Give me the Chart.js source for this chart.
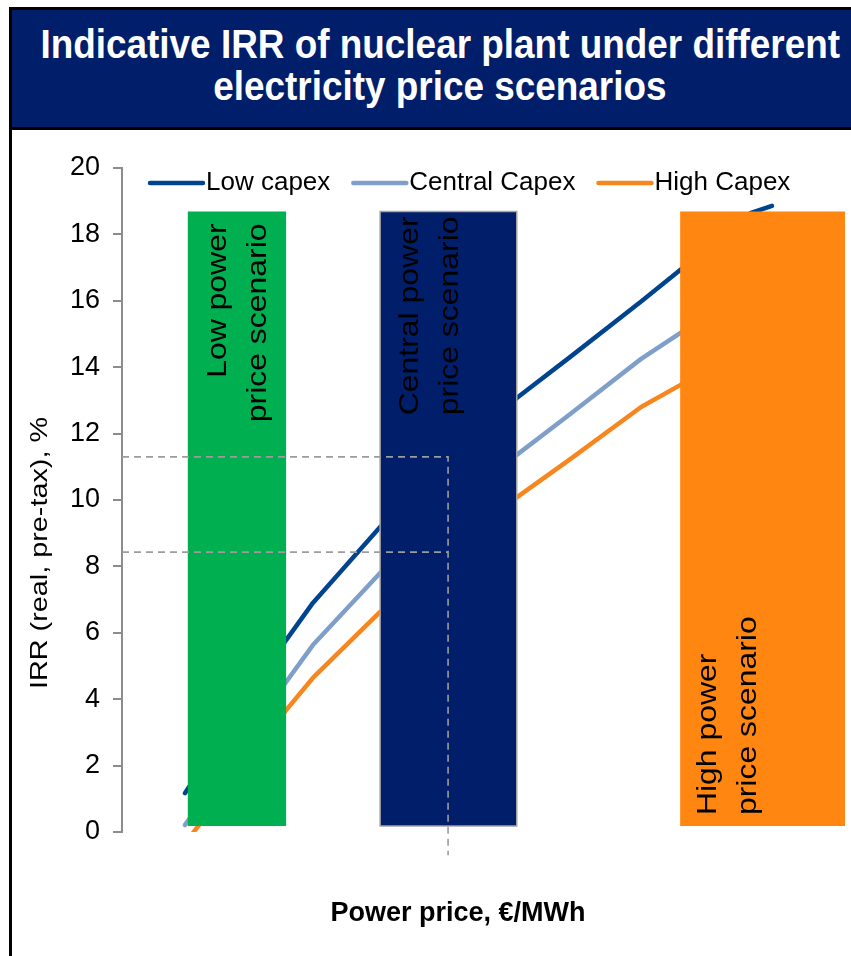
<!DOCTYPE html>
<html>
<head>
<meta charset="utf-8">
<script src="https://cdn.jsdelivr.net/npm/chart.js@4.4.1/dist/chart.umd.min.js"></script>
<style>
  html, body { margin: 0; padding: 0; background: #fff; width: 851px; height: 956px; overflow: hidden; }
  #frame {
    position: absolute; left: 9px; top: 7px; width: 862px; height: 1000px;
    border: 3px solid #000; box-sizing: border-box; z-index: 1;
  }
  #banner {
    height: 120px; background: #011e6a; border-bottom: 3px solid #000;
    color: #fff; box-sizing: border-box; padding-top: 13px;
    font: bold 41px "Liberation Sans", Arial, sans-serif; line-height: 42px;
    display: flex; flex-direction: column; align-items: center; overflow: hidden;
  }
  #banner div { transform: scaleX(0.9); white-space: nowrap; flex: none; }
  #chart { position: absolute; left: 0; top: 0; z-index: 2; }
</style>
</head>
<body>
<div id="frame">
  <div id="banner">
    <div>Indicative IRR of nuclear plant under different</div>
    <div>electricity price scenarios</div>
  </div>
</div>
<canvas id="chart" width="851" height="956"></canvas>

<script>
/* ── Datos ── */
var FONT = '"Liberation Sans", Arial, sans-serif';

var seriesNames  = ['Low capex', 'Central Capex', 'High Capex'];
var seriesColors = ['#00448f', '#7f9fc9', '#f7861e'];

// power price (hidden axis, relative units)
var prices          = [8.7, 22.7, 26.4, 35.7, 54.6, 62.0, 71.8, 77.2, 86.9, 89.9];
var irrLowCapex     = [1.17, 5.78, 6.90, 9.19, 13.07, 14.31, 15.98, 16.93, 18.64, 18.86];
var irrCentralCapex = [0.21, 4.52, 5.63, 7.80, 11.36, 12.59, 14.25, 15.03, 16.50, 16.70];
var irrHighCapex    = [-0.35, 3.67, 4.64, 6.63, 10.08, 11.23, 12.80, 13.46, 14.70, 14.90];

var yTicks = [0, 2, 4, 6, 8, 10, 12, 14, 16, 18, 20];

// scenario bands
var scenarioLines  = [['Low power', 'price scenario'], ['Central power', 'price scenario'], ['High power', 'price scenario']];
var scenarioFrom   = [9.1, 35.7, 77.2];
var scenarioTo     = [22.7, 54.6, 100];
var scenarioColors = ['#00b050', '#011e6a', '#fe8611'];
var scenarioTop    = 18.69;
var scenarioBottom = 0.18;

// dashed guides
var guideIrr    = [11.3, 8.43];
var guidePrice  = 45.1;
var guideBottom = -0.7;

function toPoints(xs, ys) {
  return xs.map(function(x, i) { return { x: x, y: ys[i] }; });
}

/* ── Plugin: bandas, textos y leyenda ── */
function vText(ctx, lines, cx, y, align, size, stretch, gap, weight) {
  ctx.save();
  ctx.translate(cx, y);
  ctx.rotate(-Math.PI / 2);
  ctx.scale(stretch, 1);
  ctx.font = (weight || '') + ' ' + size + 'px ' + FONT;
  ctx.fillStyle = '#000';
  ctx.textAlign = align;
  ctx.textBaseline = 'middle';
  lines.forEach(function(t, i) {
    ctx.fillText(t, 0, (i - (lines.length - 1) / 2) * gap);
  });
  ctx.restore();
}

var bandsPlugin = {
  id: 'bands',
  beforeDatasetDraw: function(chart, args) {
    if (args.index !== 3) return;
    var ctx = chart.ctx, x = chart.scales.x, y = chart.scales.y;
    var top = y.getPixelForValue(scenarioTop), bot = y.getPixelForValue(scenarioBottom);
    for (var i = 0; i < scenarioFrom.length; i++) {
      var l = x.getPixelForValue(scenarioFrom[i]), r = x.getPixelForValue(scenarioTo[i]);
      ctx.save();
      ctx.fillStyle = scenarioColors[i];
      ctx.fillRect(l, top, r - l, bot - top);
      if (i === 1) {
        ctx.strokeStyle = '#a6a6a6';
        ctx.lineWidth = 1.5;
        ctx.strokeRect(l, top, r - l, bot - top);
      }
      ctx.restore();
      if (i === 2) vText(ctx, scenarioLines[i], l + 48, bot - 11, 'left', 28, 1.14, 40);
      else vText(ctx, scenarioLines[i], l + 50, top + (i === 0 ? 12 : 5), 'right', 28, 1.14, 40);
    }
  },
  afterDraw: function(chart) {
    var ctx = chart.ctx;
    // axis titles
    vText(ctx, ['IRR (real, pre-tax), %'], 40, 553, 'center', 24, 1.2, 0);
    ctx.save();
    ctx.font = 'bold 27px ' + FONT;
    ctx.fillStyle = '#000';
    ctx.textAlign = 'center';
    ctx.textBaseline = 'middle';
    ctx.fillText('Power price, \u20ac/MWh', 458, 914);
    ctx.restore();

    // legend
    ctx.save();
    ctx.font = '26px ' + FONT;
    ctx.textBaseline = 'middle';
    var lx = 148, ly = 183;
    chart.data.datasets.slice(0, 3).forEach(function(ds) {
      ctx.strokeStyle = ds.borderColor;
      ctx.lineWidth = 4.5;
      ctx.lineCap = 'round';
      ctx.beginPath(); ctx.moveTo(lx + 2, ly); ctx.lineTo(lx + 55, ly); ctx.stroke();
      ctx.fillStyle = '#000';
      ctx.fillText(ds.label, lx + 58, ly);
      lx += 58 + ctx.measureText(ds.label).width + 21;
    });
    ctx.restore();
  }
};

/* ── Gráfica ── */
var guideData = [
  { x: 0, y: guideIrr[0] }, { x: guidePrice, y: guideIrr[0] }, { x: guidePrice, y: guideBottom },
  { x: guidePrice, y: null },
  { x: 0, y: guideIrr[1] }, { x: guidePrice, y: guideIrr[1] }
];

function lineSet(i, ys) {
  return {
    label: seriesNames[i],
    data: toPoints(prices, ys),
    borderColor: seriesColors[i],
    backgroundColor: seriesColors[i],
    borderWidth: 4.5,
    borderCapStyle: 'round',
    borderJoinStyle: 'round',
    pointRadius: 0,
    tension: 0,
    order: 1
  };
}

new Chart(document.getElementById('chart').getContext('2d'), {
  type: 'line',
  data: {
    datasets: [
      lineSet(0, irrLowCapex),
      lineSet(1, irrCentralCapex),
      lineSet(2, irrHighCapex),
      {
        label: 'guide',
        data: guideData,
        borderColor: '#9c9c9c',
        borderWidth: 1.6,
        borderDash: [7, 5],
        pointRadius: 0,
        spanGaps: false,
        clip: false,
        order: 0
      }
    ]
  },
  options: {
    responsive: false,
    animation: false,
    events: [],
    devicePixelRatio: 1,
    layout: { padding: { left: 62, right: 6, top: 168, bottom: 124 } },
    plugins: { legend: { display: false }, tooltip: { enabled: false } },
    scales: {
      x: { type: 'linear', display: false, min: 0, max: 100 },
      y: {
        min: 0, max: 20,
        afterBuildTicks: function(s) { s.ticks = yTicks.map(function(v) { return { value: v }; }); },
        afterFit: function(s) { s.width = 60; },
        ticks: { color: '#000', font: { family: FONT, size: 27 }, padding: 13 },
        grid: { drawOnChartArea: false, drawTicks: true, tickLength: 9, color: '#8c8c8c', lineWidth: 2 },
        border: { display: true, color: '#8c8c8c', width: 2 }
      }
    }
  },
  plugins: [bandsPlugin]
});
</script>
</body>
</html>
